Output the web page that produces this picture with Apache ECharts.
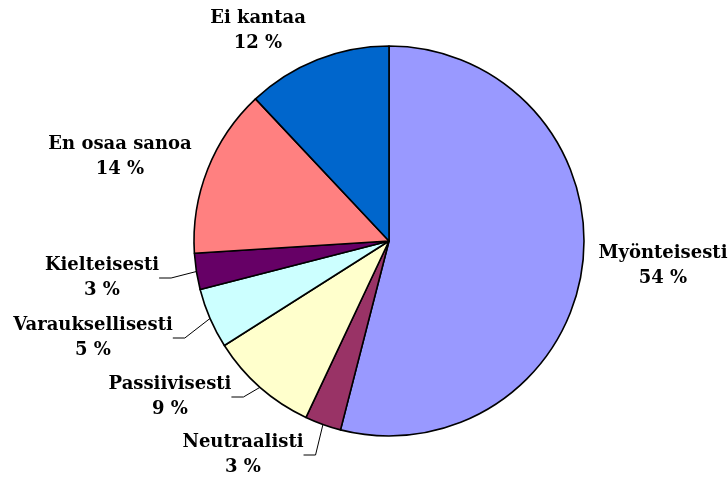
<!DOCTYPE html>
<html>
<head>
<meta charset="utf-8">
<script src="https://cdn.jsdelivr.net/npm/echarts@6/dist/echarts.min.js"></script>
<style>
    html, body { margin: 0; padding: 0; background: #fff; }
    #chart { width: 728px; height: 480px; }
</style>
</head>
<body>
<div id="chart"></div>
<script>
    // slices, clockwise from 12 o'clock
    var categories = ['Myönteisesti', 'Neutraalisti', 'Passiivisesti', 'Varauksellisesti', 'Kielteisesti', 'En osaa sanoa', 'Ei kantaa'];
    var values = [54, 3, 9, 5, 3, 14, 12];
    var colors = ['#9999ff', '#993366', '#ffffcc', '#ccffff', '#660066', '#ff8080', '#0066cc'];
    var withLine = [false, true, true, true, true, false, false];
    // label block centres
    var labelPos = [[663, 266], [243, 455], [170, 397], [93, 338], [102, 278], [120, 157], [258, 31]];

    var myChart = echarts.init(document.getElementById('chart'));
    var data = categories.map(function (name, i) {
        return {
            name: name,
            value: values[i],
            itemStyle: { color: colors[i] },
            labelLine: { show: withLine[i] }
        };
    });

    var option = {
        backgroundColor: '#fff',
        animation: false,
        series: [{
            type: 'pie',
            center: [389, 241],
            radius: 195,
            startAngle: 90,
            clockwise: true,
            avoidLabelOverlap: false,
            itemStyle: { borderColor: '#000', borderWidth: 1.6 },
            label: {
                show: true,
                position: 'outside',
                formatter: '{b}\n{c} %',
                fontFamily: 'DejaVu Serif',
                fontWeight: 'bold',
                fontSize: 18,
                lineHeight: 25,
                color: '#000',
                align: 'center'
            },
            labelLine: {
                show: true,
                length: 8,
                length2: 12,
                lineStyle: { color: '#000', width: 1 }
            },
            labelLayout: function (params) {
                var p = labelPos[params.dataIndex];
                return { x: p[0], y: p[1], align: 'center', verticalAlign: 'middle' };
            },
            emphasis: { disabled: true },
            data: data
        }]
    };
    myChart.setOption(option);
</script>
</body>
</html>
